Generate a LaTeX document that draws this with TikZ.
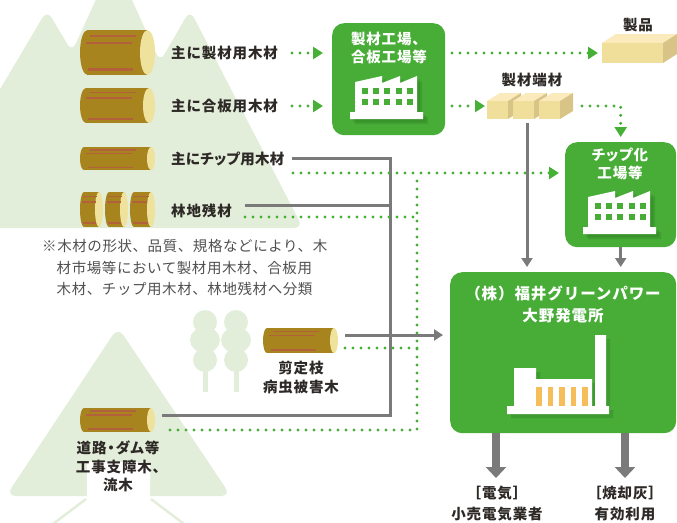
\documentclass[tikz,border=0pt]{standalone}
\usepackage{fontspec}
\setmainfont{Noto Sans CJK JP}
\usetikzlibrary{arrows.meta,calc}

\definecolor{boxgreen}{HTML}{47AD36}
\definecolor{dotgreen}{HTML}{45B035}
\definecolor{shadowgreen}{HTML}{2A7420}
\definecolor{mtn}{HTML}{E3EEDA}
\definecolor{linegray}{HTML}{7A7A7A}
\definecolor{logbody}{HTML}{A8841F}
\definecolor{logstripe}{HTML}{B3613C}
\definecolor{logend}{HTML}{EEE29C}
\definecolor{txt}{HTML}{2D2926}
\definecolor{notetxt}{HTML}{505050}
\definecolor{woodfront}{HTML}{EFDF9B}
\definecolor{woodtop}{HTML}{FBEBBC}
\definecolor{woodside}{HTML}{D8C487}
\definecolor{kiln}{HTML}{F6BE5A}

% a log: x1, y1, x2, y2, end radius
\newcommand\woodlog[5]{%
  \pgfmathsetmacro\lgmid{(#2+#4)/2}%
  \pgfmathsetmacro\lgry{(#4-#2)/2}%
  \pgfmathsetmacro\lgw{#3-#1}%
  \pgfmathsetmacro\lgh{#4-#2}%
  \pgfmathsetmacro\lgsw{max(1.3,\lgh/20)}%
  \fill[logbody] ({#1+#5},#2) rectangle ({#3-#5},#4);
  \fill[logbody] ({#1+#5},\lgmid) ellipse [x radius=#5pt, y radius=\lgry pt];
  \fill[logend] ({#3-#5},\lgmid) ellipse [x radius=#5pt, y radius=\lgry pt];
  \draw[logstripe, line width=\lgsw pt]
    ({#1+0.13*\lgw},{#2+0.13*\lgh}) -- ({#3-0.25*\lgw},{#2+0.13*\lgh})
    ({#1+0.08*\lgw},{#2+0.29*\lgh}) -- ({#3-0.31*\lgw},{#2+0.29*\lgh})
    ({#1+0.11*\lgw},{#2+0.88*\lgh}) -- ({#3-0.29*\lgw},{#2+0.88*\lgh});
}

% a wooden block seen from above right: x, y (front top left), width, height, depth dx, dy
\newcommand\woodblock[6]{%
  \fill[woodtop] (#1,#2) -- ({#1+#3},#2) -- ({#1+#3+#5},{#2-#6}) -- ({#1+#5},{#2-#6}) -- cycle;
  \fill[woodside] ({#1+#3},#2) -- ({#1+#3+#5},{#2-#6}) -- ({#1+#3+#5},{#2+#4-#6}) -- ({#1+#3},{#2+#4}) -- cycle;
  \fill[woodfront] (#1,#2) rectangle ({#1+#3},{#2+#4});
}

\newcommand\millshape{(0,0) rectangle (73,7) (5,0) -- (5,-30) -- (32,-36) -- (32,-29) -- (50,-36) -- (50,-29) -- (67,-36) -- (67,0) -- cycle}

\newcommand\lblfont[2]{\bfseries\fontsize{#1}{#2}\selectfont\addfontfeatures{LetterSpace=6}}
\newcommand\kanafont[3]{\bfseries\fontsize{#1}{#2}\selectfont\addfontfeatures{LetterSpace=#3,RawFeature=+palt}}

\tikzset{
  lbl/.style={font=\lblfont{14.5}{19}, text=txt, inner sep=0pt},
  wlbl/.style={font=\lblfont{14.5}{18}, text=white, inner sep=0pt, align=center},
  notestyle/.style={font=\fontsize{14.5}{21.5}\selectfont\addfontfeatures{LetterSpace=4}, text=notetxt, inner sep=0pt, align=left},
  gbox/.style={fill=boxgreen, rounded corners=12pt, inner sep=0pt, anchor=north west},
  dotline/.style={dotgreen, line width=3.4pt, line cap=round, dash pattern=on 0pt off 8pt},
  dottip/.style={-{Triangle[length=10pt,width=12pt]}},
  grayline/.style={linegray, line width=3pt},
  graytip/.style={-{Triangle[length=9pt,width=11pt]}},
  outarrow/.style={linegray, line width=8pt, -{Triangle[length=11pt,width=20pt]}},
  factory/.pic={
    \fill[shadowgreen, opacity=.25, shift={(5,5)}] \millshape;
    \fill[shadowgreen, opacity=.25, shift={(3,3)}] \millshape;
    \fill[white] \millshape;
    \foreach \wx in {12,23,34,46,57} {
      \fill[boxgreen] (\wx,-24) rectangle ++(6,6);
      \fill[boxgreen] (\wx,-13) rectangle ++(6,6);
    }
  },
}

\begin{document}
\begin{tikzpicture}[x=1pt,y=-1pt]
\useasboundingbox (0,0) rectangle (677,522);

% mountains and trees
\fill[mtn, rounded corners=9] (-20,123) -- (47,10) -- (72,52) -- (114,-40) -- (160,62) -- (190,10) -- (303,228) -- (-20,228) -- cycle;
\fill[mtn, rounded corners=10] (6,496) -- (118,327) -- (231,496) -- cycle;
\fill[white, rounded corners=3] (87,498) -- (87,462) -- (150,462) -- (150,498) -- cycle;
\draw[mtn, line width=2.5pt] (86,499) -- (53,524) (151,499) -- (184,524);
\foreach \tx in {205,236} {
  \fill[mtn] ({\tx-2.5},360) rectangle ({\tx+2.5},392);
  \fill[mtn] (\tx,322) circle [radius=12pt];
  \fill[mtn] (\tx,340) ellipse [x radius=15pt, y radius=13pt];
  \fill[mtn] (\tx,360) circle [radius=12pt];
}

% logs
\woodlog{80}{30}{155}{75}{7.5}
\woodlog{80}{88}{155}{123}{6}
\woodlog{80}{147}{155}{170}{4}
\woodlog{80}{192}{103}{227}{4}
\woodlog{105}{192}{128}{227}{4}
\woodlog{130}{192}{155}{227}{4}
\woodlog{263}{328}{338}{353}{4}
\woodlog{80}{408}{155}{432}{4}

% labels for the timber
\node[lbl, anchor=west] (l1) at (171,53) {主に製材用木材};
\node[lbl, anchor=west] (l2) at (171,106) {主に合板用木材};
\node[lbl, anchor=west, font=\kanafont{14.5}{19}{2}] (l3) at (171,159) {主にチップ用木材};
\node[lbl, anchor=west] (l4) at (171,211) {林地残材};
\node[notestyle, anchor=north west] (note) at (42,239.5)
  {※木材の形状、品質、規格などにより、木\\\hphantom{※}材市場等において製材用木材、合板用\\\hphantom{※}木材、チップ用木材、林地残材へ分類};
\node[lbl, align=center] (prune) at (301,377.5) {剪定枝\\病虫被害木};
\node[lbl, align=center, font=\kanafont{14.5}{18.5}{6}] (road) at (118,466.5) {道路・ダム等\\工事支障木、\\流木};

% sawmill
\node[gbox, minimum width=113pt, minimum height=112pt] (mill) at (332,23) {};
\node[wlbl] (millt) at (389,48) {製材工場、\\合板工場等};
\pic at (350,112) {factory};

% chip plant
\node[gbox, minimum width=111pt, minimum height=105pt] (chip) at (565,142) {};
\node[wlbl, font=\kanafont{14.5}{18}{6}] (chipt) at (620,164) {チップ化\\工場等};
\pic at (583,227) {factory};

% power station
\node[gbox, minimum width=226pt, minimum height=161pt] (plant) at (450,272) {};
\node[wlbl, font=\lblfont{15.5}{22}] (plantt) at (563,304) {（株）福井グリーンパワー\\大野発電所};
\begin{scope}[shadowgreen, opacity=.3]
  \fill[shift={(4,4)}] (507,406) rectangle (609,414) (514,368) rectangle (536,406)
    (514,379) rectangle (592,406) (595,335) rectangle (606,406);
\end{scope}
\fill[white] (507,406) rectangle (609,414) (514,368) rectangle (536,406)
  (514,379) rectangle (592,406) (595,335) rectangle (606,406);
\foreach \kx in {536,547.5,559,570.5,582}
  \fill[kiln] (\kx,387) rectangle ({\kx+5.5},406);

% products and offcuts
\node[fill=woodfront, anchor=north west, minimum width=61pt, minimum height=20pt, inner sep=0pt] (prod) at (602,43) {};
\woodblock{602}{43}{61}{20}{14}{9}
\node[lbl] (prodt) at (638,25) {製品};
\woodblock{487}{101}{21}{18}{13}{8}
\woodblock{513}{101}{21}{18}{13}{8}
\woodblock{539}{101}{21}{18}{13}{8}
\coordinate (offcut) at (487,106);
\node[lbl] (offcutt) at (532,80) {製材端材};

% gray flows into the power station
\coordinate (g1) at (292,158);
\coordinate (g3) at (390,415);
\coordinate (g4) at (162,415);
\coordinate (g5) at (245,205);
\coordinate (g6) at (345,335);
\coordinate (o2) at (527,123);
\draw[grayline] (g1) -| (g3) -- (g4);
\draw[grayline] (g5) -- (g5 -| g3);
\draw[grayline, graytip, shorten >=7pt] (g6) -- (g6 -| plant.west);
\draw[grayline, graytip, shorten >=5pt] (o2) -- (o2 |- plant.north);
\draw[grayline, graytip, shorten >=5pt] (chip.south) -- (chip.south |- plant.north);

% green dotted flows
\coordinate (s1) at (292,53);
\coordinate (s2) at (292,106);
\coordinate (m1) at (452,53);
\coordinate (m2) at (452,106);
\coordinate (o1) at (582,106);
\coordinate (d1) at (293,173);
\coordinate (d2) at (245,217);
\coordinate (d3) at (345,348);
\coordinate (d4) at (163,430);
\coordinate (v1) at (417,181);
\coordinate (v2) at (417,430);
\draw[dotline, dottip, shorten >=9pt] (s1) -- (s1 -| mill.west);
\draw[dotline, dottip, shorten >=9pt] (s2) -- (s2 -| mill.west);
\draw[dotline, dottip, shorten >=4pt] (m1) -- (m1 -| prod.west);
\draw[dotline, dottip, shorten >=2pt] (m2) -- (offcut);
\draw[dotline, dottip, shorten >=5pt] (o1) -| (chip.north);
\draw[dotline, dottip, shorten >=6pt] (d1) -- (d1 -| chip.west);
\draw[dotline] (d2) -- (d2 -| v1);
\draw[dotline] (d3) -- (d3 -| v1);
\draw[dotline] (v1) -- (v2) -- (d4);

% outputs
\coordinate (elecTip) at (496,478);
\coordinate (ashTip) at (625,478);
\draw[outarrow] (plant.south -| elecTip) -- (elecTip);
\draw[outarrow] (plant.south -| ashTip) -- (ashTip);
\node[lbl, align=center, font=\lblfont{14.5}{21}] (elec) at (497,503.5) {［電気］\\小売電気業者};
\node[lbl, align=center, font=\lblfont{14.5}{21}] (ash) at (625,503.5) {［焼却灰］\\有効利用};
\end{tikzpicture}
\end{document}
